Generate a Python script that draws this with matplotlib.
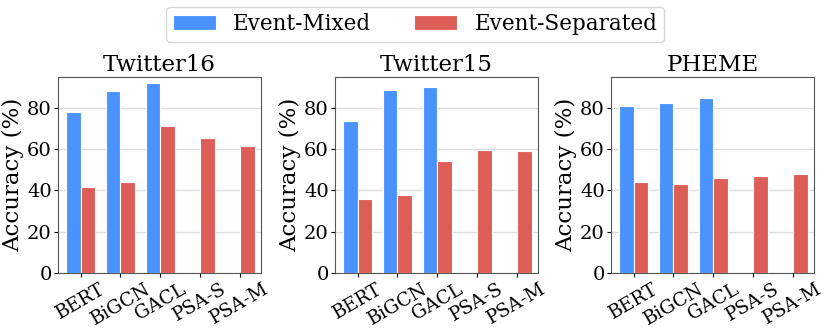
import matplotlib
matplotlib.use("Agg")
import matplotlib.pyplot as plt
import numpy as np

plt.rcParams['font.family'] = 'DejaVu Serif'

methods = ['BERT', 'BiGCN', 'GACL', 'PSA-S', 'PSA-M']
datasets = ['Twitter16', 'Twitter15', 'PHEME']

# Event-Mixed (only baselines reported)
mixed_t16 = [78.0, 88.0, 92.1, 0, 0]
mixed_t15 = [73.5, 88.6, 90.2, 0, 0]
mixed_pheme = [80.8, 82.4, 85.0, 0, 0]

# Event-Separated
sep_t16 = [41.9, 44.3, 71.2, 65.4, 61.5]
sep_t15 = [36.0, 37.8, 54.2, 59.4, 59.1]
sep_pheme = [44.0, 43.0, 46.2, 47.2, 48.0]

mixed = [mixed_t16, mixed_t15, mixed_pheme]
separated = [sep_t16, sep_t15, sep_pheme]

blue = '#4a93ff'
red = '#dd5e56'

fig = plt.figure(figsize=(8.3, 3.32), dpi=100)
lefts = [58, 335, 611]
x = np.arange(len(methods))
w = 0.37

for k, name in enumerate(datasets):
    ax = fig.add_axes([lefts[k] / 830, 1 - 273 / 332, 203 / 830, 196 / 332])
    ax.bar(x - w, mixed[k], w, align='edge', color=blue, edgecolor='white',
           linewidth=0.8, label='Event-Mixed', zorder=3)
    ax.bar(x, separated[k], w, align='edge', color=red, edgecolor='white',
           linewidth=0.8, label='Event-Separated', zorder=3)
    ax.set_xlim(-0.57, 4.53)
    ax.set_ylim(0, 95)
    ax.set_yticks([0, 20, 40, 60, 80])
    ax.set_xticks(x)
    ax.set_xticklabels(methods, rotation=30, fontsize=13.5)
    ax.tick_params(axis='y', labelsize=14, length=3, pad=1.5)
    ax.tick_params(axis='x', length=3, pad=2)
    ax.yaxis.grid(True, color='#dddddd', linewidth=1, zorder=0)
    ax.set_axisbelow(True)
    for s in ax.spines.values():
        s.set_color('#555555')
    ax.set_ylabel('Accuracy (%)', fontsize=16.5, labelpad=2)
    ax.set_title(name, fontsize=16.5, pad=4)
    if k == 0:
        handles, labels = ax.get_legend_handles_labels()

fig.legend(handles, labels, loc='upper center', bbox_to_anchor=(0.5, 1 - 7 / 332),
           ncol=2, fontsize=15.5, frameon=True, borderaxespad=0, borderpad=0.3)

plt.savefig('out.png', dpi=100)
plt.close()
